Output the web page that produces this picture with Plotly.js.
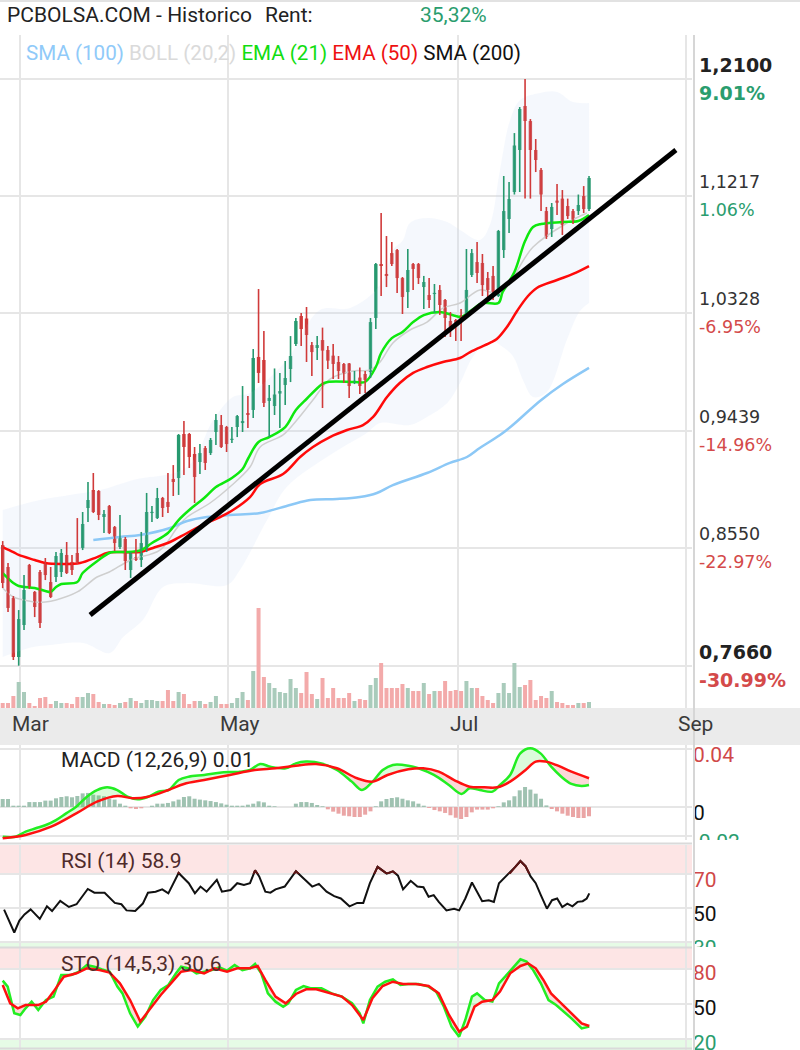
<!DOCTYPE html>
<html><head><meta charset="utf-8">
<script src="https://cdn.plot.ly/plotly-3.0.1.min.js"></script>
<style>html,body{margin:0;padding:0;background:#fff}#chart{width:800px;height:1050px}</style>
</head><body><div id="chart"></div>
<script>
// ---------------- DATA ----------------
const monthLabels = ['Mar','May','Jul','Sep'];
const monthTickIdx = [3.25, 42.3, 85.4, 128.2];

const open  = [0.8573,0.8407,0.8172,0.7726,0.7968,0.8422,0.8218,0.8369,0.8437,0.8293,
0.8331,0.8369,0.8498,0.8445,0.8513,0.8551,0.8853,0.8989,0.8982,0.8785,
0.8868,0.8709,0.8558,0.8619,0.8384,0.8482,0.8460,0.8535,0.8815,0.8777,
0.8929,0.8899,0.9073,0.9080,0.9413,0.9413,0.9262,0.9201,0.9307,0.9269,
0.9428,0.9481,0.9466,0.9368,0.9466,0.9496,0.9572,0.9595,0.9996,0.9973,
0.9663,0.9625,0.9719,0.9784,0.9905,1.0094,1.0306,1.0287,1.0086,1.0064,
1.0124,1.0049,1.0006,0.9958,0.9943,0.9947,0.9806,0.9840,0.9867,0.9882,
1.0291,1.0699,1.0624,1.0782,1.0805,1.0593,1.0487,1.0699,1.0699,1.0525,
1.0465,1.0472,1.0503,1.0427,1.0268,1.0276,1.0313,1.0313,1.0616,1.0714,
1.0707,1.0593,1.0609,1.0457,1.0805,1.1040,1.1244,1.1562,1.1895,1.1781,
1.1562,1.1411,1.1100,1.0964,1.1179,1.1194,1.1138,1.1100,1.1100,1.1214,1.1115];
const high  = [0.8603,0.8437,0.8187,0.8081,0.8346,0.8430,0.8225,0.8384,0.8475,0.8407,
0.8520,0.8543,0.8596,0.8498,0.8777,0.8823,0.9050,0.9118,0.8989,0.8838,
0.8876,0.8717,0.8800,0.8634,0.8520,0.8619,0.8672,0.8967,0.8868,0.9005,
0.8937,0.9118,0.9178,0.9413,0.9511,0.9421,0.9315,0.9337,0.9322,0.9383,
0.9564,0.9557,0.9474,0.9466,0.9557,0.9776,0.9701,1.0056,1.0510,1.0192,
0.9784,0.9909,0.9875,0.9965,1.0154,1.0291,1.0329,1.0374,1.0109,1.0154,
1.0218,1.0079,1.0094,1.0003,0.9950,0.9950,0.9890,0.9916,0.9890,1.0291,
1.0707,1.1085,1.0911,1.0866,1.0813,1.0601,1.0813,1.0707,1.0707,1.0609,
1.0593,1.0548,1.0540,1.0435,1.0336,1.0283,1.0359,1.0813,1.0813,1.0866,
1.0775,1.0639,1.0684,1.0957,1.1365,1.1320,1.1690,1.1887,1.2100,1.1796,
1.1645,1.1426,1.1131,1.1161,1.1305,1.1259,1.1194,1.1116,1.1225,1.1289,1.1365];
const low   = [0.8248,0.8066,0.7703,0.7660,0.7930,0.8240,0.8028,0.7945,0.8308,0.8172,
0.8293,0.8331,0.8354,0.8346,0.8430,0.8535,0.8747,0.8815,0.8762,0.8664,
0.8656,0.8528,0.8543,0.8384,0.8324,0.8452,0.8407,0.8520,0.8747,0.8770,
0.8785,0.8815,0.8944,0.8952,0.9103,0.9156,0.8891,0.9110,0.9141,0.9254,
0.9330,0.9307,0.9277,0.9345,0.9390,0.9428,0.9458,0.9534,0.9799,0.9617,
0.9390,0.9557,0.9458,0.9632,0.9806,1.0079,1.0079,0.9958,0.9852,0.9973,
0.9610,0.9905,0.9829,0.9829,0.9799,0.9685,0.9791,0.9716,0.9723,0.9837,
1.0207,1.0457,1.0525,1.0684,1.0480,1.0321,1.0366,1.0503,1.0548,1.0359,
1.0366,1.0329,1.0314,1.0147,1.0147,1.0117,1.0117,1.0306,1.0601,1.0556,
1.0457,1.0434,1.0427,1.0450,1.0745,1.0934,1.1225,1.1244,1.1194,1.1194,
1.1395,1.1100,1.0889,1.0904,1.1070,1.0919,1.1040,1.1002,1.1070,1.1085,1.1100];
const close = [0.8286,0.8097,0.7726,0.8013,0.8233,0.8255,0.8104,0.7983,0.8346,0.8180,
0.8490,0.8513,0.8361,0.8384,0.8445,0.8732,0.8914,0.8823,0.8800,0.8808,
0.8664,0.8588,0.8634,0.8452,0.8513,0.8460,0.8588,0.8823,0.8823,0.8929,
0.8853,0.8861,0.9050,0.9406,0.9315,0.9239,0.9088,0.9269,0.9194,0.9368,
0.9519,0.9315,0.9337,0.9375,0.9549,0.9511,0.9557,0.9988,0.9875,0.9648,
0.9686,0.9712,0.9738,0.9837,1.0003,1.0268,1.0207,1.0162,1.0033,1.0086,
1.0044,0.9968,0.9943,0.9890,0.9867,0.9776,0.9814,0.9776,0.9822,1.0260,
1.0699,1.0684,1.0609,1.0699,1.0593,1.0450,1.0654,1.0662,1.0593,1.0563,
1.0427,1.0480,1.0389,1.0291,1.0223,1.0253,1.0260,1.0503,1.0782,1.0631,
1.0540,1.0503,1.0487,1.0949,1.1100,1.1191,1.1596,1.1872,1.1781,1.1562,
1.1486,1.1225,1.0904,1.1131,1.1163,1.0994,1.1062,1.1009,1.1146,1.1115,1.1350];
const volume = [50,50,120,260,160,50,20,100,110,40, 70,50,50,40,110,110,150,140,60,40,
40,30,50,60,100,70,50,80,80,70, 70,180,70,160,140,40,70,70,40,60,
120,40,40,50,100,160,80,370,1000,310, 250,200,160,150,290,200,150,360,140,90,
300,100,200,100,100,150,70,90,80,230, 300,450,200,200,200,240,200,170,170,250,
140,170,170,270,170,180,170,270,200,200, 120,80,50,150,250,150,450,210,230,280,
80,120,100,170,60,50,30,30,50,50,60];

const ema21X = [0,2,3,6,8,9,10,11,14,15,18,20,21,23,26,28,31,33,35,38,40,43,45,46,48,50,53,55,57,60,61,66,68,70,71,73,75,77,79,82,83,85,86,88,90,93,93.8,96,98,99.5,101,105,108,110];
const ema21Y = [0.8361,0.8286,0.8263,0.8248,0.8225,0.8218,0.8255,0.8278,0.8293,0.8361,0.8460,0.8513,0.8520,0.8520,0.8535,0.8588,0.8664,0.8762,0.8838,0.8936,0.9012,0.9080,0.9148,0.9224,0.9353,0.9390,0.9466,0.9595,0.9678,0.9792,0.9807,0.9807,0.9807,0.9920,1.0026,1.0139,1.0185,1.0260,1.0313,1.0336,1.0329,1.0306,1.0298,1.0351,1.0404,1.0404,1.0487,1.0639,1.0873,1.0979,1.1002,1.1017,1.1025,1.1070];
const ema50X = [0,2,3,6,8,11,14.5,17.7,19.6,22,25.8,28.2,31.4,34.6,38.3,40.8,43.2,46.4,48.3,52.6,55.8,58.2,61.4,64.6,67.6,69.5,72.1,74.5,77,79.6,82.6,85.8,87.7,91.4,92.7,94.6,96.5,98.4,100.2,104,107,110];
const ema50Y = [0.8558,0.8520,0.8498,0.8460,0.8437,0.8430,0.8437,0.8482,0.8513,0.8520,0.8520,0.8551,0.8596,0.8664,0.8740,0.8785,0.8838,0.8936,0.9035,0.9110,0.9239,0.9315,0.9390,0.9443,0.9481,0.9542,0.9693,0.9799,0.9875,0.9920,0.9958,0.9988,1.0033,1.0102,1.0132,1.0223,1.0344,1.0450,1.0518,1.0578,1.0624,1.0684];
const sma100X = [17,22,25.8,31.4,34.6,38.3,42.6,48.3,53.9,57.7,62.7,67,70.2,73.2,79.6,83.9,87.1,89.5,93.3,95.7,100.8,105.1,110];
const sma100Y = [0.8611,0.8634,0.8649,0.8702,0.8755,0.8785,0.8800,0.8815,0.8876,0.8914,0.8921,0.8936,0.8967,0.9027,0.9118,0.9194,0.9239,0.9307,0.9405,0.9481,0.9663,0.9791,0.9913];
const sma20X = [0,2,4,6,8,10,14,17.7,20,24,29.5,32.7,34.6,38.9,42.6,46.4,48.3,52.6,55.2,58.2,61.4,65.7,68.9,70.8,73.2,76.4,79.6,82.6,85.8,89.5,93.3,99.5,105.9,109.6];
const sma20Y = [0.8248,0.8180,0.8157,0.8142,0.8142,0.8157,0.8218,0.8331,0.8369,0.8460,0.8535,0.8702,0.8785,0.8891,0.9012,0.9163,0.9315,0.9406,0.9519,0.9670,0.9829,0.9890,0.9897,0.9958,1.0101,1.0200,1.0260,1.0366,1.0404,1.0503,1.0480,1.0828,1.1010,1.1085];
const bollUpX = [0,7,12.6,18.3,24.5,34.6,39.5,43.2,46.4,53.3,59.5,65.2,70.8,73.2,75.1,76.4,79.6,83.4,85.8,89.5,91.4,93.3,95.2,97.1,100.8,104,107,110];
const bollUpY = [0.8838,0.8914,0.8952,0.8989,0.9065,0.9163,0.9519,0.9693,0.9724,0.9973,1.0351,1.0366,1.0540,1.0805,1.0881,1.1010,1.1047,1.1017,1.0957,1.0881,1.0994,1.1411,1.1789,1.1940,1.1993,1.2001,1.1925,1.1918];
const bollLoX = [0,5.7,8.9,15.1,20.1,22.6,26.3,30.1,34.6,42.1,44.5,49.6,53.3,62,68.3,70.8,76.4,79.6,83.4,85.8,88.2,91.4,93.3,95.7,97.6,99.5,102.1,105.9,108.3,110];
const bollLoY = [0.7726,0.7801,0.7817,0.7832,0.7756,0.7877,0.8006,0.8255,0.8286,0.8271,0.8384,0.8762,0.9012,0.9269,0.9421,0.9496,0.9481,0.9542,0.9648,0.9799,0.9996,1.0124,1.0087,1.0003,0.9822,0.9693,0.9731,1.0132,1.0344,1.0404];
const trendX = [16.4, 126.3];
const trendY = [0.8044, 1.1562];

const macdX = [0,2.4,4.3,6.2,8.1,10,11.9,13.8,15.8,17.7,19.6,21.5,23.4,25.3,27.3,29.2,31.1,33,34.9,37.8,40.7,44.5,46.4,48.3,50.2,53.1,55,56.9,59.8,62.7,65.5,67.4,69.4,71.3,73.2,76.1,78,80.9,83.7,86.1,87.6,89.5,91.9,93.3,95.2,97.1,99,100.9,102.9,104.8,106.7,108.6,110];
const macdY = [-0.0205,-0.0205,-0.0170,-0.0147,-0.0124,-0.0090,-0.0044,0.0002,0.0071,0.0117,0.0136,0.0117,0.0071,0.0053,0.0071,0.0106,0.0117,0.0186,0.0209,0.0221,0.0237,0.0244,0.0255,0.0297,0.0278,0.0267,0.0301,0.0313,0.0301,0.0255,0.0175,0.0117,0.0175,0.0255,0.0290,0.0285,0.0267,0.0221,0.0152,0.0090,0.0129,0.0117,0.0106,0.0152,0.0221,0.0370,0.0405,0.0370,0.0278,0.0209,0.0159,0.0145,0.0152];
const signalX = [0,4.3,9.1,13.8,17.7,21.5,24.4,27.3,31.1,34,37.8,42.6,47.3,51.2,55,58.8,62.7,66.5,69.4,72.2,76.1,78.9,81.8,84.7,87.6,90.4,92.8,95.2,98.1,100,101.9,103.8,106.7,110];
const signalY = [-0.0216,-0.0193,-0.0136,-0.0044,0.0037,0.0076,0.0060,0.0071,0.0117,0.0159,0.0186,0.0221,0.0255,0.0267,0.0285,0.0297,0.0267,0.0198,0.0175,0.0221,0.0260,0.0267,0.0244,0.0186,0.0140,0.0136,0.0136,0.0175,0.0255,0.0313,0.0313,0.0290,0.0244,0.0198];
const macdHist = [0.0055,0.0055,0.0009,0.0009,0.0009,0.0034,0.0034,0.0034,0.0044,0.0044,
0.0060,0.0069,0.0074,0.0067,0.0076,0.0094,0.0097,0.0085,0.0080,0.0074,
0.0057,0.0051,0.0023,0.0009,-0.0009,-0.0014,-0.0009,0,0.0009,0.0023,
0.0023,0.0028,0.0039,0.0051,0.0069,0.0074,0.0057,0.0051,0.0046,0.0041,
0.0034,0.0025,0.0016,0.0009,0.0009,0.0009,0.0016,0.0023,0.0039,0.0032,
0.0009,0.0005,0,0,0,0.0023,0.0034,0.0034,0.0028,0.0014,
0.0005,-0.0016,-0.0032,-0.0046,-0.0060,-0.0064,-0.0069,-0.0069,-0.0053,-0.0030,
0.0005,0.0039,0.0055,0.0062,0.0067,0.0057,0.0046,0.0039,0.0023,0.0009,
-0.0007,-0.0021,-0.0030,-0.0041,-0.0057,-0.0074,-0.0083,-0.0069,-0.0037,-0.0018,
-0.0018,-0.0018,-0.0009,0.0005,0.0032,0.0046,0.0074,0.0115,0.0138,0.0120,
0.0092,0.0057,0.0011,-0.0014,-0.0030,-0.0046,-0.0060,-0.0069,-0.0076,-0.0076,-0.0064];
const macdBelowRanges = [[24,27.3],[60.5,69.4],[78.5,92.5],[102,110]];

const rsiX = [0.26,1.22,2.17,3.13,4.09,5.24,6.96,8.3,9.26,10.79,12.42,13.85,14.81,15.96,17.2,19.12,21.03,22.27,23.23,24.86,26.29,27.25,28.69,29.93,31.08,33,34.91,36.06,37.11,38.26,40.17,41.13,42.76,44,45.25,46.4,47.35,48.12,49.27,50.23,51.18,52.91,55.01,56.93,58.07,59.32,60.76,62.19,63.44,65.06,66.5,67.65,68.89,70.33,72.05,73.2,74.16,75.11,76.55,77.79,78.94,79.9,80.86,81.81,83.25,84.69,85.64,86.79,88.04,88.99,89.95,91.19,92.15,93.11,94.26,95.21,96.17,97.13,98.09,99.04,100,100.96,102.1,103.06,104.02,104.98,105.93,106.89,107.85,108.81,109.57,110.05];
const rsiY = [49.0,42.6,35.6,42.6,46.2,49.2,43.6,51.0,48.2,54.2,50.6,52.2,56.6,61.2,59.0,59.0,53.0,52.2,48.6,48.2,52.6,59.0,59.6,61.0,58.6,70.6,64.6,58.6,62.6,59.6,66.6,59.6,60.6,64.6,63.6,64.6,72.2,68.6,59.6,59.0,61.0,62.6,71.6,65.6,62.6,64.2,59.6,57.0,55.6,51.0,53.0,53.0,64.6,74.2,70.2,71.6,69.0,61.0,66.0,62.6,62.2,56.6,57.6,53.6,48.6,49.6,48.6,55.6,65.0,59.6,54.0,54.6,53.6,64.6,68.2,70.6,74.2,77.6,74.6,68.6,64.6,57.6,49.6,54.6,55.6,50.6,52.6,51.0,53.6,54.0,55.6,58.6];

const stoKX = [0,0.93,2.17,3.32,4.28,5.43,6.67,8.11,9.54,10.98,12.89,14.33,15.77,17.2,18.64,20.07,21.51,22.47,23.9,25.34,26.77,28.21,29.65,31.08,32.52,33.47,34.91,36.35,37.78,39.22,40.65,42.09,43.52,44.96,46.4,47.35,48.5,49.75,51.18,52.62,53.57,55.01,56.45,57.88,59.8,61.71,63.63,65.54,66.98,67.65,68.89,70.33,71.76,73.2,74.63,76.07,77.99,79.9,81.33,82.77,84.21,85.64,86.79,88.04,88.99,90.43,91.87,93.11,94.26,95.69,97.13,98.28,99.52,100.96,102.4,103.83,105.27,106.7,108.62,110.05];
const stoKY = [70.0,64.9,42.0,40.6,46.3,52.0,44.9,53.4,56.3,74.9,74.9,77.7,83.4,82.0,79.7,77.7,64.9,59.1,42.0,30.6,39.1,53.4,62.0,66.3,76.3,82.0,80.6,76.3,77.7,79.1,81.4,78.6,83.4,79.1,80.6,84.3,76.3,59.1,52.0,47.7,50.6,62.0,65.4,63.4,63.4,59.1,56.3,50.6,42.0,33.4,53.4,64.9,69.1,71.1,66.3,67.1,67.1,64.9,60.6,47.7,30.6,22.0,36.3,56.3,59.1,53.4,52.0,67.7,73.4,80.6,88.3,86.3,79.1,67.7,53.4,49.1,43.4,37.7,29.1,30.6];
const stoDX = [0,1.41,2.84,4.28,5.43,6.67,8.11,9.54,11.46,13.85,15.77,18.16,20.07,21.99,23.9,25.82,27.73,29.65,31.56,33.47,35.39,37.78,39.7,42.09,44,46.4,47.83,49.27,51.18,53.1,55.01,56.93,58.84,61.23,63.63,65.54,67.65,69.37,71.28,73.2,75.11,77.51,79.9,81.81,83.73,85.64,87.08,88.51,89.95,91.87,93.3,95.21,97.13,98.56,100,101.44,102.87,104.79,106.7,108.62,110.05];
const stoDY = [66.3,50.6,46.3,49.1,49.1,49.1,52.0,60.6,73.4,76.3,80.6,79.1,76.9,67.7,53.4,34.9,46.3,57.7,67.7,77.7,79.1,76.3,80.6,77.7,80.6,80.6,82.6,70.6,56.3,50.6,58.6,62.6,62.6,59.7,56.3,49.1,36.3,54.9,65.4,69.1,67.1,67.1,65.4,59.1,40.6,26.3,30.6,47.7,52.0,53.4,60.6,76.3,82.6,84.9,80.6,70.6,59.1,50.6,42.0,33.4,31.1];
const stoBelowRanges = [[1,4.5],[6,7.5],[20,27.5],[48.3,54],[64,68.3],[80,86.5],[98.3,110]];

const priceTicks = [0.7660, 0.8550, 0.9439, 1.0328, 1.1217, 1.2100];
const priceTickText = ['0,7660','0,8550','0,9439','1,0328','1,1217','1,2100'];
const pctTickText = ['-30.99%','-22.97%','-14.96%','-6.95%','1.06%','9.01%'];
const macdTicks = [0.04, 0, -0.02];
const macdTickText = ['0.04','0','-0.02'];
const rsiTicks = [70, 50, 30];
const rsiTickText = ['70','50','30'];
const stoTicks = [80, 50, 20];
const stoTickText = ['80','50','20'];

// ---------------- STYLE / LAYOUT ----------------
const W = 800, H = 1050;
const UP = '#27996f', DOWN = '#d03a3a';
const GREEN_TXT = '#2a9d6e', RED_TXT = '#d44a4a';
const GRID = '#e6e6e6';
const py = p => 1 - p / H;
const XD = 692 / W;

const mainDom = [py(708), py(35)], mainRange = [0.7340, 1.2432];
const macdDom = [py(840), py(745)], macdRange = [-0.02276, 0.04276];
const rsiDom  = [py(947), py(845)], rsiRange  = [27.06, 87.06];
const rsiHotDom = [py(874), py(845)];
const stoDom  = [py(1050), py(948)], stoRange = [10.57, 98.0];

const idx = open.map((_, i) => i);
const isUp = idx.map(i => close[i] >= open[i]);
const traces = [];
const base = {hoverinfo: 'skip', showlegend: false};

// Bollinger band
traces.push(Object.assign({x: bollLoX, y: bollLoY, type: 'scatter', mode: 'lines', line: {width: 0, shape: 'spline'}}, base));
traces.push(Object.assign({x: bollUpX, y: bollUpY, type: 'scatter', mode: 'lines', line: {width: 0, shape: 'spline'},
  fill: 'tonexty', fillcolor: 'rgba(200,218,242,0.19)'}, base));
traces.push(Object.assign({x: sma20X, y: sma20Y, type: 'scatter', mode: 'lines', line: {color: '#cfcfcf', width: 1.5, shape: 'spline'}}, base));
traces.push(Object.assign({x: sma100X, y: sma100Y, type: 'scatter', mode: 'lines', line: {color: '#8cc8f6', width: 2.5, shape: 'spline'}}, base));
traces.push(Object.assign({x: ema50X, y: ema50Y, type: 'scatter', mode: 'lines', line: {color: '#ff0a0a', width: 2.5, shape: 'spline'}}, base));
traces.push(Object.assign({x: ema21X, y: ema21Y, type: 'scatter', mode: 'lines', line: {color: '#0ee80e', width: 2.5, shape: 'spline'}}, base));

// candles: wicks (high-low) + bodies (open-close)
[true, false].forEach(up => {
  const wx = [], wy = [];
  idx.forEach(i => { if (isUp[i] === up) { wx.push(i, i, null); wy.push(low[i], high[i], null); } });
  traces.push(Object.assign({x: wx, y: wy, type: 'scatter', mode: 'lines', line: {color: up ? UP : DOWN, width: 1.6}}, base));
});
traces.push(Object.assign({type: 'bar', x: idx, width: 0.64,
  base: idx.map(i => Math.min(open[i], close[i])),
  y: idx.map(i => Math.max(Math.abs(close[i] - open[i]), 0.0009)),
  marker: {color: idx.map(i => isUp[i] ? UP : DOWN), line: {width: 0}}}, base));

traces.push(Object.assign({x: trendX, y: trendY, type: 'scatter', mode: 'lines', line: {color: '#000', width: 5}}, base));
// volume
traces.push(Object.assign({type: 'bar', x: idx, y: volume, yaxis: 'y5', width: 0.75,
  marker: {color: idx.map(i => isUp[i] ? '#a9cbbb' : '#f3aaaa'), line: {width: 0}}}, base));

// helpers for fills
function sliceXY(xs, ys, a, b) {
  const ox = [], oy = [];
  xs.forEach((x, i) => { if (x >= a && x <= b) { ox.push(x); oy.push(ys[i]); } });
  return [ox, oy];
}
function addSegFills(xa, ya, xb, yb, ranges, color, yaxis) {
  ranges.forEach(([a, b]) => {
    const [x1, y1] = sliceXY(xa, ya, a, b), [x2, y2] = sliceXY(xb, yb, a, b);
    traces.push(Object.assign({x: x1, y: y1, type: 'scatter', mode: 'lines', line: {width: 0}, yaxis}, base));
    traces.push(Object.assign({x: x2, y: y2, type: 'scatter', mode: 'lines', line: {width: 0}, yaxis, fill: 'tonexty', fillcolor: color}, base));
  });
}

// MACD
traces.push(Object.assign({type: 'bar', x: idx, y: macdHist, yaxis: 'y2', width: 0.75,
  marker: {color: macdHist.map(v => v >= 0 ? '#9fc2b1' : '#eaa5a5'), line: {width: 0}}}, base));
traces.push(Object.assign({x: signalX, y: signalY, type: 'scatter', mode: 'lines', line: {width: 0, shape: 'spline'}, yaxis: 'y2'}, base));
traces.push(Object.assign({x: macdX, y: macdY, type: 'scatter', mode: 'lines', line: {width: 0, shape: 'spline'}, yaxis: 'y2',
  fill: 'tonexty', fillcolor: 'rgba(40,230,40,0.16)'}, base));
addSegFills(signalX, signalY, macdX, macdY, macdBelowRanges, '#fbd8d8', 'y2');
traces.push(Object.assign({x: macdX, y: macdY, type: 'scatter', mode: 'lines', line: {color: '#22ee22', width: 2.5, shape: 'spline'}, yaxis: 'y2'}, base));
traces.push(Object.assign({x: signalX, y: signalY, type: 'scatter', mode: 'lines', line: {color: '#ff1010', width: 2.5, shape: 'spline'}, yaxis: 'y2'}, base));

// RSI (dark segment above 70 drawn on a clipped overlay of the upper band)
traces.push(Object.assign({x: rsiX, y: rsiY, type: 'scatter', mode: 'lines', line: {color: '#111', width: 2}, yaxis: 'y3'}, base));
traces.push(Object.assign({x: rsiX, y: rsiY, type: 'scatter', mode: 'lines', line: {color: '#5e1414', width: 2}, yaxis: 'y9'}, base));

// STO
traces.push(Object.assign({x: stoDX, y: stoDY, type: 'scatter', mode: 'lines', line: {width: 0}, yaxis: 'y4'}, base));
traces.push(Object.assign({x: stoKX, y: stoKY, type: 'scatter', mode: 'lines', line: {width: 0}, yaxis: 'y4',
  fill: 'tonexty', fillcolor: 'rgba(40,230,40,0.16)'}, base));
addSegFills(stoDX, stoDY, stoKX, stoKY, stoBelowRanges, '#fbd8d8', 'y4');
traces.push(Object.assign({x: stoKX, y: stoKY, type: 'scatter', mode: 'lines', line: {color: '#22ee22', width: 2.5}, yaxis: 'y4'}, base));
traces.push(Object.assign({x: stoDX, y: stoDY, type: 'scatter', mode: 'lines', line: {color: '#ff1010', width: 2.5}, yaxis: 'y4'}, base));

// right-side labels of the indicator panels (clipped to each panel)
function panelLabels(ticks, texts, colors, dom, range, yaxis, pxOffset) {
  const hPx = (dom[1] - dom[0]) * H;
  const off = pxOffset * (range[1] - range[0]) / hPx;
  traces.push(Object.assign({type: 'scatter', mode: 'text', xaxis: 'x2', yaxis,
    x: ticks.map(() => 1), y: ticks.map(t => t - off), text: texts, textposition: 'middle right',
    cliponaxis: true, textfont: {family: 'Roboto', size: 21, color: colors}}, base));
}
const tickColors = ['#d04848', '#111111', GREEN_TXT];
panelLabels(macdTicks, macdTickText, tickColors, macdDom, macdRange, 'y6', 8);
panelLabels(rsiTicks, rsiTickText, tickColors, rsiDom, rsiRange, 'y7', 8);
panelLabels(stoTicks, stoTickText, tickColors, stoDom, stoRange, 'y8', 6);

// annotations
const ann = [];
const roboto = (size, color) => ({family: 'Roboto', size, color});
ann.push({xref: 'paper', yref: 'paper', x: 5 / W, y: py(15), xanchor: 'left', yanchor: 'middle', showarrow: false,
  text: 'PCBOLSA.COM - Historico', font: roboto(21, '#222')});
ann.push({xref: 'paper', yref: 'paper', x: 263 / W, y: py(15), xanchor: 'left', yanchor: 'middle', showarrow: false,
  text: 'Rent:', font: roboto(21, '#222')});
ann.push({xref: 'paper', yref: 'paper', x: 418 / W, y: py(15), xanchor: 'left', yanchor: 'middle', showarrow: false,
  text: '35,32%', font: roboto(21, GREEN_TXT)});
ann.push({xref: 'paper', yref: 'paper', x: 24 / W, y: py(53), xanchor: 'left', yanchor: 'middle', showarrow: false,
  text: "<span style='color:#90caf9'>SMA (100)</span> <span style='color:#dadada'>BOLL (20,2)</span> <span style='color:#11dd11'>EMA (21)</span> <span style='color:#ee1111'>EMA (50)</span> <span style='color:#111'>SMA (200)</span>",
  font: roboto(20.6, '#111')});
ann.push({xref: 'paper', yref: 'paper', x: 59 / W, y: py(760), xanchor: 'left', yanchor: 'middle', showarrow: false,
  text: 'MACD (12,26,9) 0.01', font: roboto(21, '#222')});
ann.push({xref: 'paper', yref: 'paper', x: 59 / W, y: py(861), xanchor: 'left', yanchor: 'middle', showarrow: false,
  text: 'RSI (14) 58.9', font: roboto(21, '#4f2a2a')});
ann.push({xref: 'paper', yref: 'paper', x: 59 / W, y: py(964), xanchor: 'left', yanchor: 'middle', showarrow: false,
  text: 'STO (14,5,3) 30.6', font: roboto(21, '#4f2a2a')});
monthLabels.forEach((m, i) => ann.push({xref: 'x', yref: 'paper', x: monthTickIdx[i], xshift: -10, y: py(724),
  xanchor: 'left', yanchor: 'middle', showarrow: false, text: m, font: roboto(21, '#3a3a3a')}));
priceTicks.forEach((v, i) => {
  const bold = (i === 0 || i === priceTicks.length - 1);
  const neg = pctTickText[i].charAt(0) === '-';
  ann.push({xref: 'paper', yref: 'y', x: 697 / W, y: v, yshift: 14, xanchor: 'left', yanchor: 'middle', showarrow: false,
    text: bold ? '<b>' + priceTickText[i] + '</b>' : priceTickText[i],
    font: {family: 'DejaVu Sans', size: bold ? 19 : 17.5, color: bold ? '#222' : '#333'}});
  ann.push({xref: 'paper', yref: 'y', x: 697 / W, y: v, yshift: -14, xanchor: 'left', yanchor: 'middle', showarrow: false,
    text: bold ? '<b>' + pctTickText[i] + '</b>' : pctTickText[i],
    font: {family: 'DejaVu Sans', size: bold ? 19 : 17.5, color: neg ? RED_TXT : GREEN_TXT}});
});

// shapes
const shp = [];
shp.push({type: 'rect', xref: 'paper', yref: 'paper', x0: 0, x1: 1, y0: py(745), y1: py(708), fillcolor: '#ebebeb', line: {width: 0}, layer: 'below'});
shp.push({type: 'rect', xref: 'paper', yref: 'y3', x0: 0, x1: XD, y0: 70, y1: rsiRange[1], fillcolor: '#fde5e5', line: {width: 0}, layer: 'below'});
shp.push({type: 'rect', xref: 'paper', yref: 'y3', x0: 0, x1: XD, y0: rsiRange[0], y1: 30, fillcolor: '#e6fbe6', line: {width: 0}, layer: 'below'});
shp.push({type: 'rect', xref: 'paper', yref: 'y4', x0: 0, x1: XD, y0: 80, y1: stoRange[1], fillcolor: '#fde5e5', line: {width: 0}, layer: 'below'});
shp.push({type: 'rect', xref: 'paper', yref: 'y4', x0: 0, x1: XD, y0: stoRange[0], y1: 20, fillcolor: '#e6fbe6', line: {width: 0}, layer: 'below'});
shp.push({type: 'line', xref: 'paper', yref: 'paper', x0: 0, x1: 1, y0: py(1), y1: py(1), line: {color: '#e2e2e2', width: 2}});
[843.5, 947.5, 1048.5].forEach(p => shp.push({type: 'line', xref: 'paper', yref: 'paper', x0: 0, x1: XD, y0: py(p), y1: py(p), line: {color: '#dadada', width: 2}}));
shp.push({type: 'line', xref: 'paper', yref: 'paper', x0: 694 / W, x1: 694 / W, y0: py(35), y1: 0, line: {color: '#d6d6d6', width: 2}});

const yBase = {showticklabels: false, ticks: '', zeroline: false, showline: false, gridcolor: GRID, gridwidth: 2, fixedrange: true, anchor: 'x'};
const layout = {
  width: W, height: H, margin: {l: 0, r: 0, t: 0, b: 0}, paper_bgcolor: '#fff', plot_bgcolor: 'rgba(0,0,0,0)',
  showlegend: false, hovermode: false, barmode: 'overlay',
  xaxis: {domain: [0, XD], range: [-0.507, 129.32], tickvals: monthTickIdx, showticklabels: false, ticks: '',
    showgrid: true, gridcolor: GRID, gridwidth: 2, zeroline: false, showline: false, fixedrange: true, anchor: 'y'},
  xaxis2: {domain: [XD, 1], range: [0, 108], visible: false, fixedrange: true, anchor: 'y6'},
  yaxis: Object.assign({}, yBase, {domain: mainDom, range: mainRange, tickvals: priceTicks}),
  yaxis2: Object.assign({}, yBase, {domain: macdDom, range: macdRange, tickvals: macdTicks}),
  yaxis3: Object.assign({}, yBase, {domain: rsiDom, range: rsiRange, tickvals: rsiTicks}),
  yaxis4: Object.assign({}, yBase, {domain: stoDom, range: stoRange, tickvals: stoTicks}),
  yaxis5: {overlaying: 'y', range: [0, 6730], visible: false, showgrid: false, zeroline: false, fixedrange: true, anchor: 'x'},
  yaxis6: {domain: macdDom, range: macdRange, visible: false, anchor: 'x2', fixedrange: true},
  yaxis7: {domain: rsiDom, range: rsiRange, visible: false, anchor: 'x2', fixedrange: true},
  yaxis8: {domain: stoDom, range: stoRange, visible: false, anchor: 'x2', fixedrange: true},
  yaxis9: {domain: rsiHotDom, range: [70, rsiRange[1]], visible: false, showgrid: false, zeroline: false, anchor: 'x', fixedrange: true},
  annotations: ann, shapes: shp
};
Plotly.newPlot('chart', traces, layout, {staticPlot: true, displayModeBar: false});
</script></body></html>
